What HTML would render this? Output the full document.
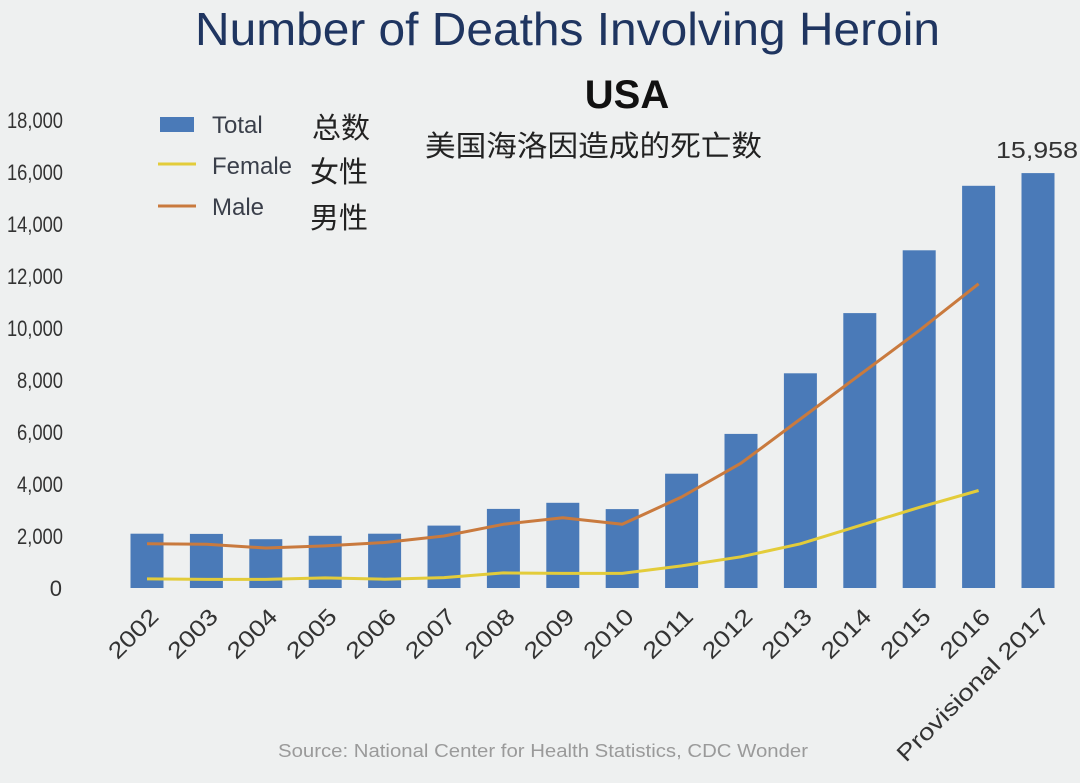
<!DOCTYPE html>
<html><head><meta charset="utf-8"><style>
html,body{margin:0;padding:0;background:#eef0f0;}
svg{display:block;}
text{font-family:"Liberation Sans","Noto Sans CJK SC",sans-serif;}
</style></head><body>
<svg width="1080" height="783" viewBox="0 0 1080 783" xmlns="http://www.w3.org/2000/svg">
<rect width="1080" height="783" fill="#eef0f0"/>
<text x="195" y="45" font-size="46" fill="#1f3560" textLength="745" lengthAdjust="spacingAndGlyphs">Number of Deaths Involving Heroin</text>
<text x="627" y="108" text-anchor="middle" font-size="40" font-weight="bold" fill="#111">USA</text>
<text x="425" y="156" font-size="29" fill="#222" textLength="337" lengthAdjust="spacingAndGlyphs">美国海洛因造成的死亡数</text>
<g font-size="22" fill="#333">
<text x="7" y="128" textLength="56" lengthAdjust="spacingAndGlyphs">18,000</text>
<text x="7" y="180" textLength="56" lengthAdjust="spacingAndGlyphs">16,000</text>
<text x="7" y="232" textLength="56" lengthAdjust="spacingAndGlyphs">14,000</text>
<text x="7" y="284" textLength="56" lengthAdjust="spacingAndGlyphs">12,000</text>
<text x="7" y="336" textLength="56" lengthAdjust="spacingAndGlyphs">10,000</text>
<text x="17" y="388" textLength="46" lengthAdjust="spacingAndGlyphs">8,000</text>
<text x="17" y="440" textLength="46" lengthAdjust="spacingAndGlyphs">6,000</text>
<text x="17" y="492" textLength="46" lengthAdjust="spacingAndGlyphs">4,000</text>
<text x="17" y="544" textLength="46" lengthAdjust="spacingAndGlyphs">2,000</text>
<text x="62" y="596" text-anchor="end">0</text>
</g>
<rect x="160" y="117" width="34" height="15" fill="#4a7ab8"/>
<line x1="158" y1="164" x2="196" y2="164" stroke="#e3cc3a" stroke-width="3"/>
<line x1="158" y1="206" x2="196" y2="206" stroke="#c97a3e" stroke-width="3"/>
<g font-size="24" fill="#3a3f4a"><text x="212" y="133">Total</text><text x="212" y="174">Female</text><text x="212" y="215">Male</text></g>
<g font-size="29" fill="#222"><text x="312" y="138">总数</text><text x="310" y="182">女性</text><text x="310" y="228">男性</text></g>
<g fill="#4a7ab8">
<rect x="130.5" y="533.7" width="33" height="54.3"/>
<rect x="189.9" y="533.9" width="33" height="54.1"/>
<rect x="249.3" y="539.2" width="33" height="48.8"/>
<rect x="308.7" y="535.8" width="33" height="52.2"/>
<rect x="368.1" y="533.7" width="33" height="54.3"/>
<rect x="427.5" y="525.6" width="33" height="62.4"/>
<rect x="486.9" y="508.9" width="33" height="79.1"/>
<rect x="546.3" y="502.8" width="33" height="85.2"/>
<rect x="605.7" y="509.1" width="33" height="78.9"/>
<rect x="665.1" y="473.7" width="33" height="114.3"/>
<rect x="724.5" y="433.9" width="33" height="154.1"/>
<rect x="783.9" y="373.3" width="33" height="214.7"/>
<rect x="843.3" y="313.1" width="33" height="274.9"/>
<rect x="902.7" y="250.3" width="33" height="337.7"/>
<rect x="962.1" y="185.8" width="33" height="402.2"/>
<rect x="1021.5" y="173.1" width="33" height="414.9"/>
</g>
<polyline fill="none" stroke="#c97a3e" stroke-width="3" stroke-linejoin="round" points="147,543.8 206.4,544.3 265.8,548 325.2,545.9 384.6,542.5 444,536 503.4,524.3 562.8,517.8 622.2,524.3 681.6,497 741,463.2 800.4,419 859.8,374.8 919.2,330.6 978.6,283.8"/>
<polyline fill="none" stroke="#e3cc3a" stroke-width="3" stroke-linejoin="round" points="147,578.9 206.4,579.4 265.8,579.4 325.2,577.9 384.6,579.2 444,577.6 503.4,572.9 562.8,573.4 622.2,573.4 681.6,565.9 741,556.8 800.4,543.8 859.8,525.6 919.2,507.4 978.6,490.5"/>
<text x="996" y="158" font-size="23" fill="#333" textLength="82" lengthAdjust="spacingAndGlyphs">15,958</text>
<g font-size="23" fill="#333" text-anchor="end">
<text transform="translate(160,618) rotate(-45)" textLength="60" lengthAdjust="spacingAndGlyphs">2002</text>
<text transform="translate(219.4,618) rotate(-45)" textLength="60" lengthAdjust="spacingAndGlyphs">2003</text>
<text transform="translate(278.8,618) rotate(-45)" textLength="60" lengthAdjust="spacingAndGlyphs">2004</text>
<text transform="translate(338.2,618) rotate(-45)" textLength="60" lengthAdjust="spacingAndGlyphs">2005</text>
<text transform="translate(397.6,618) rotate(-45)" textLength="60" lengthAdjust="spacingAndGlyphs">2006</text>
<text transform="translate(457,618) rotate(-45)" textLength="60" lengthAdjust="spacingAndGlyphs">2007</text>
<text transform="translate(516.4,618) rotate(-45)" textLength="60" lengthAdjust="spacingAndGlyphs">2008</text>
<text transform="translate(575.8,618) rotate(-45)" textLength="60" lengthAdjust="spacingAndGlyphs">2009</text>
<text transform="translate(635.2,618) rotate(-45)" textLength="60" lengthAdjust="spacingAndGlyphs">2010</text>
<text transform="translate(694.6,618) rotate(-45)" textLength="60" lengthAdjust="spacingAndGlyphs">2011</text>
<text transform="translate(754,618) rotate(-45)" textLength="60" lengthAdjust="spacingAndGlyphs">2012</text>
<text transform="translate(813.4,618) rotate(-45)" textLength="60" lengthAdjust="spacingAndGlyphs">2013</text>
<text transform="translate(872.8,618) rotate(-45)" textLength="60" lengthAdjust="spacingAndGlyphs">2014</text>
<text transform="translate(932.2,618) rotate(-45)" textLength="60" lengthAdjust="spacingAndGlyphs">2015</text>
<text transform="translate(991.6,618) rotate(-45)" textLength="60" lengthAdjust="spacingAndGlyphs">2016</text>
<text transform="translate(1051,618) rotate(-45)" textLength="205" lengthAdjust="spacingAndGlyphs">Provisional 2017</text>
</g>
<text x="278" y="757" font-size="18" fill="#9a9a9a" textLength="530" lengthAdjust="spacingAndGlyphs">Source: National Center for Health Statistics, CDC Wonder</text>
</svg>
</body></html>
